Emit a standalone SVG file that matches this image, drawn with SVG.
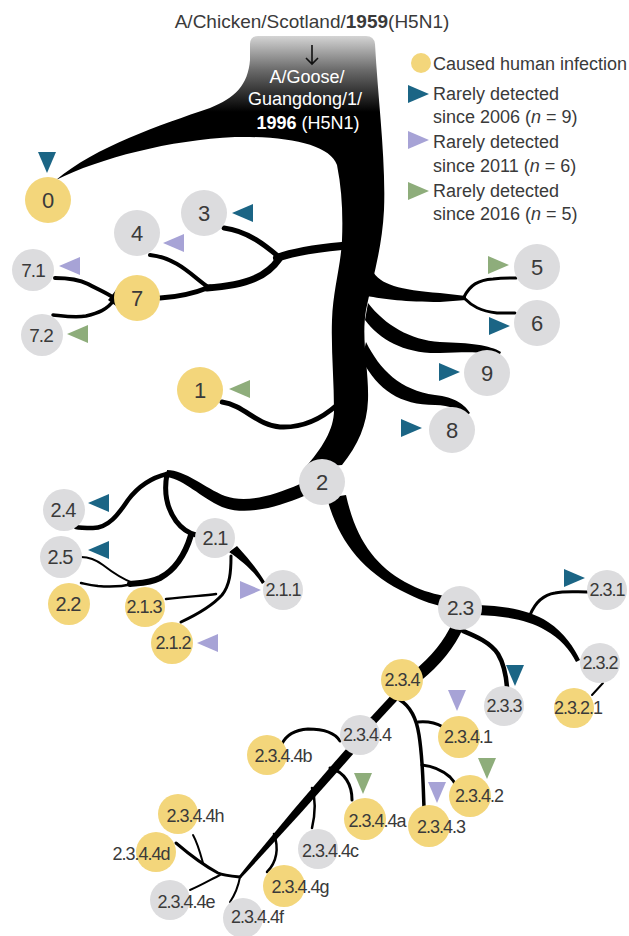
<svg xmlns="http://www.w3.org/2000/svg" width="629" height="936" viewBox="0 0 629 936">
<defs>
<linearGradient id="trunkGrad" gradientUnits="userSpaceOnUse" x1="0" y1="36" x2="0" y2="112">
<stop offset="0" stop-color="#d4d4d4"/>
<stop offset="0.45" stop-color="#6a6a6a"/>
<stop offset="1" stop-color="#000"/>
</linearGradient>
<path id="tri" d="M0,-9 L21,0 L0,9 Z"/>
</defs>
<style>
text{font-family:"Liberation Sans",Arial,sans-serif;fill:#3a3a3a}
.y{fill:#F3D67B}
.g{fill:#DCDCDE}
.t1{fill:#1B6585}
.t2{fill:#A7A3D6}
.t3{fill:#8EAD7B}
.big{font-size:22px;text-anchor:middle}
.mid{font-size:20px;text-anchor:middle;letter-spacing:-1px}
.sm{font-size:18px;text-anchor:middle;letter-spacing:-1px}
.leg{font-size:18px}
.br{fill:none;stroke:#000;stroke-linecap:round}
.tp{fill:#000}
</style>
<rect width="629" height="936" fill="#fff"/>

<g id="title">
<text x="312" y="28" style="font-size:19px;text-anchor:middle">A/Chicken/Scotland/<tspan font-weight="bold">1959</tspan>(H5N1)</text>
</g>

<g id="connectors">
<!-- trunk -->
<path fill="url(#trunkGrad)" d="M250,44 Q250,36 258,36 L366,36 Q374,36 375,44 C378,100 386,160 384,210 C382,250 372,280 366,310 C361,340 369,370 368,400 C367,425 358,445 342,465 L305,468 C322,448 334,430 334,410 C334,380 331,350 332,320 C333,290 341,265 342,240 C343,215 342,190 337,165 C330,145 290,136 235,137 C170,140 100,158 56,180 C95,147 160,125 210,108 C235,98 248,85 250,60 Z"/>
<path d="M312,45 L312,64 M306,58 L312,64 L318,58" fill="none" stroke="#111" stroke-width="1.6"/>
<!-- 3/4/7 -->
<path class="br" stroke-width="8" d="M342,246 C320,248 296,251 277,258"/>
<path class="br" stroke-width="5" d="M279,257 C266,246 248,231 224,228"/>
<path class="br" stroke-width="7" d="M279,259 C268,275 250,285 207,288"/>
<path class="br" stroke-width="4" d="M208,287 C193,277 178,258 150,255"/>
<path class="br" stroke-width="5" d="M210,287 C195,293 180,297 160,298"/>
<path class="tp" d="M116,290 L116,306 L108,300 Z"/>
<path class="br" stroke-width="4" d="M114,298 C105,292 97,289 88,284 C78,279 68,278 55,278"/>
<path class="br" stroke-width="3.5" d="M114,300 C107,310 98,313 86,316 C75,318 63,316 53,315"/>
<!-- 1 -->
<path class="br" stroke-width="5" d="M337,405 C320,420 300,428 280,427 C258,426 244,405 222,402"/>
<!-- 5/6 -->
<path class="tp" d="M372,270 C380,285 400,290 440,293 L466,296 L466,300 L440,302 C405,302 385,299 366,296 Z"/>
<path class="br" stroke-width="3" d="M464,297 C470,285 478,280 493,279 C502,278 508,278 516,278"/>
<path class="br" stroke-width="3" d="M464,298 C472,306 480,311 497,313 C503,313 508,313 515,313"/>
<!-- 9 -->
<path class="tp" d="M368,303 C385,325 410,340 440,342 C470,343 490,345 501,352 L499,356 C485,351 465,352 440,353 C405,354 380,340 365,320 Z"/>
<!-- 8 -->
<path class="tp" d="M366,342 C380,370 400,390 435,395 C455,397 465,405 470,413 L466,416 C460,410 450,405 435,405 C400,405 378,390 362,360 Z"/>
<!-- 2 left -->
<path class="tp" d="M300,484 C270,497 245,503 225,496 C205,488 185,470 167,470 L167,477 C185,480 200,497 222,507 C245,516 275,508 304,496 Z"/>
<path class="br" stroke-width="4.5" d="M167,474 C150,478 137,488 128,500 C118,515 108,528 93,528 C86,528 80,528 76,527"/>
<path class="br" stroke-width="5" d="M167,474 C164,490 166,507 176,521 C182,529 188,533 196,535"/>
<path class="br" stroke-width="6" d="M191,535 C185,555 175,570 160,578 C150,583 140,583 130,584"/>
<path class="br" stroke-width="2" d="M133,583 C120,578 112,572 103,565 C95,559 88,557 81,557"/>
<path class="br" stroke-width="2.5" d="M133,584 C120,587 108,587 98,586 C90,585 86,584 81,583"/>
<!-- 2.1 -->
<path class="tp" d="M229,552 L237,546 C248,558 258,570 265,582 L262,584 C255,572 242,561 229,552 Z"/>
<path class="br" stroke-width="3" d="M231,556 C231,572 230,585 222,595 C212,606 196,615 181,622"/>
<path class="br" stroke-width="2.5" d="M216,594 C205,596 190,596 166,599"/>
<!-- 2 -> 2.3 -->
<path class="tp" d="M327,498 C338,540 362,570 400,590 C420,600 430,604 442,606 L444,596 C430,593 420,590 405,582 C375,565 356,540 346,495 Z"/>
<!-- 2.3 right -->
<path class="tp" d="M478,605 C505,606 530,610 548,622 C565,633 574,648 580,660 L576,662 C570,650 560,638 545,630 C528,620 505,616 478,615 Z"/>
<path class="br" stroke-width="3" d="M530,615 C535,603 542,595 555,593 C565,591 575,592 587,592"/>
<path class="br" stroke-width="2" d="M603,683 L592,695"/>
<!-- 2.3 -> 2.3.3 -->
<path class="br" stroke-width="4.5" d="M463,631 C475,636 490,642 498,654 C504,664 506,675 507,687"/>
<!-- 2.3 -> 2.3.4 -->
<path fill="none" stroke="#000" stroke-width="12" d="M458,625 C449,645 437,660 417,676"/>
<!-- 2.3.4 -> 2.3.4.4 -->
<path fill="none" stroke="#000" stroke-width="8" d="M395,697 L370,724"/>
<!-- 2.3.4 stem -->
<path class="br" stroke-width="3.5" d="M400,700 C408,705 416,715 419,735 C423,760 423,785 424,807"/>
<path class="br" stroke-width="3" d="M418,722 C428,721 436,723 443,727"/>
<path class="br" stroke-width="3" d="M422,765 C432,766 442,770 450,777 C453,780 455,783 456,786"/>
<!-- 2.3.4.4 -->
<path class="br" stroke-width="3" d="M340,741 C335,733 325,729 308,729 C295,730 286,735 282,744"/>
<path class="tp" d="M347,748 L354,753 Q300,815 241,878 L239,876 Q292,810 347,748 Z"/>
<path class="br" stroke-width="3" d="M330,768 C345,772 352,785 352,800"/>
<path class="br" stroke-width="2.5" d="M312,788 C316,800 315,815 312,828"/>
<path class="br" stroke-width="2.5" d="M274,834 C279,848 277,862 267,872"/>
<path class="br" stroke-width="2" d="M240,877 C238,888 234,896 230,902"/>
<path class="br" stroke-width="3" d="M240,877 C230,876 222,875 218,873 C205,866 190,855 176,843"/>
<path class="br" stroke-width="2" d="M220,875 C210,880 200,886 190,890"/>
<path class="br" stroke-width="2" d="M203,863 C200,852 197,842 193,835"/>
</g>

<g id="trunk-label">
<text x="307" y="83" style="font-size:18px;text-anchor:middle;fill:#fff">A/Goose/</text>
<text x="305" y="105" style="font-size:18px;text-anchor:middle;fill:#fff">Guangdong/1/</text>
<text x="308" y="129" style="font-size:18px;text-anchor:middle;fill:#fff"><tspan font-weight="bold" style="fill:#fff">1996</tspan> (H5N1)</text>
</g>

<g id="n-0"><circle class="y" cx="48" cy="200" r="23"/><text class="big" x="48" y="208">0</text><use href="#tri" class="t1" transform="translate(47,152) rotate(90)"/></g>
<g id="n-3"><circle class="g" cx="204" cy="213" r="23"/><text class="big" x="204" y="221">3</text><use href="#tri" class="t1" transform="translate(253,213) rotate(180)"/></g>
<g id="n-4"><circle class="g" cx="137" cy="233" r="23"/><text class="big" x="137" y="241">4</text><use href="#tri" class="t2" transform="translate(184,243) rotate(180)"/></g>
<g id="n-7"><circle class="y" cx="137" cy="298" r="23"/><text class="big" x="137" y="306">7</text></g>
<g id="n-7-1"><circle class="g" cx="33" cy="270" r="21"/><text class="mid" x="33" y="277" style="font-size:19px">7.1</text><use href="#tri" class="t2" transform="translate(80,266) rotate(180)"/></g>
<g id="n-7-2"><circle class="g" cx="42" cy="335" r="21"/><text class="mid" x="41" y="342" style="font-size:19px">7.2</text><use href="#tri" class="t3" transform="translate(88,334) rotate(180)"/></g>
<g id="n-1"><circle class="y" cx="200" cy="390" r="23"/><text class="big" x="200" y="398">1</text><use href="#tri" class="t3" transform="translate(250,389) rotate(180)"/></g>
<g id="n-5"><circle class="g" cx="537" cy="267" r="23"/><text class="big" x="537" y="275">5</text><use href="#tri" class="t3" transform="translate(488,265)"/></g>
<g id="n-6"><circle class="g" cx="537" cy="323" r="23"/><text class="big" x="537" y="331">6</text><use href="#tri" class="t1" transform="translate(489,326)"/></g>
<g id="n-9"><circle class="g" cx="487" cy="373" r="23"/><text class="big" x="487" y="381">9</text><use href="#tri" class="t1" transform="translate(439,372)"/></g>
<g id="n-8"><circle class="g" cx="452" cy="430" r="23"/><text class="big" x="452" y="438">8</text><use href="#tri" class="t1" transform="translate(401,428)"/></g>
<g id="n-2"><circle class="g" cx="322" cy="482" r="23"/><text class="big" x="322" y="490">2</text></g>
<g id="n-2-4"><circle class="g" cx="64" cy="510" r="21"/><text class="mid" x="63" y="517">2.4</text><use href="#tri" class="t1" transform="translate(109,503) rotate(180)"/></g>
<g id="n-2-5"><circle class="g" cx="61" cy="557" r="21"/><text class="mid" x="60" y="564">2.5</text><use href="#tri" class="t1" transform="translate(109,550) rotate(180)"/></g>
<g id="n-2-2"><circle class="y" cx="69" cy="604" r="21"/><text class="mid" x="68" y="611">2.2</text></g>
<g id="n-2-1"><circle class="g" cx="215" cy="538" r="20"/><text class="mid" x="215" y="545">2.1</text></g>
<g id="n-2-1-1"><circle class="g" cx="283" cy="590" r="20"/><text class="sm" x="283" y="596">2.1.1</text><use href="#tri" class="t2" transform="translate(240,590)"/></g>
<g id="n-2-1-3"><circle class="y" cx="145" cy="607" r="20"/><text class="sm" x="144" y="613">2.1.3</text></g>
<g id="n-2-1-2"><circle class="y" cx="172" cy="643" r="21"/><text class="sm" x="173" y="649">2.1.2</text><use href="#tri" class="t2" transform="translate(218,643) rotate(180)"/></g>
<g id="n-2-3"><circle class="g" cx="460" cy="608" r="22"/><text class="mid" x="460" y="615" style="font-size:21px">2.3</text></g>
<g id="n-2-3-1"><circle class="g" cx="607" cy="590" r="20"/><text class="sm" x="607" y="596">2.3.1</text><use href="#tri" class="t1" transform="translate(564,578)"/></g>
<g id="n-2-3-2"><circle class="g" cx="600" cy="663" r="20"/><text class="sm" x="600" y="669">2.3.2</text></g>
<g id="n-2-3-2-1"><circle class="y" cx="574" cy="708" r="20"/><text class="sm" x="578" y="714">2.3.2.1</text></g>
<g id="n-2-3-3"><circle class="g" cx="504" cy="706" r="20"/><text class="sm" x="504" y="712">2.3.3</text><use href="#tri" class="t1" transform="translate(515,665) rotate(90)"/></g>
<g id="n-2-3-4"><circle class="y" cx="402" cy="680" r="21"/><text class="sm" x="402" y="686">2.3.4</text></g>
<g id="n-2-3-4-4"><circle class="g" cx="360" cy="735" r="20"/><text class="sm" x="367" y="741">2.3.4.4</text></g>
<g id="n-2-3-4-1"><circle class="y" cx="459" cy="737" r="21"/><text class="sm" x="468" y="743">2.3.4.1</text><use href="#tri" class="t2" transform="translate(457,690) rotate(90)"/></g>
<g id="n-2-3-4-2"><circle class="y" cx="470" cy="796" r="21"/><text class="sm" x="479" y="802">2.3.4.2</text><use href="#tri" class="t3" transform="translate(487,758) rotate(90)"/></g>
<g id="n-2-3-4-3"><circle class="y" cx="429" cy="826" r="21"/><text class="sm" x="441" y="833">2.3.4.3</text><use href="#tri" class="t2" transform="translate(437,782) rotate(90)"/></g>
<g id="n-2-3-4-4a"><circle class="y" cx="365" cy="819" r="21"/><text class="sm" x="377" y="827">2.3.4.4a</text><use href="#tri" class="t3" transform="translate(363,773) rotate(90)"/></g>
<g id="n-2-3-4-4b"><circle class="y" cx="267" cy="755" r="20"/><text class="sm" x="283" y="762">2.3.4.4b</text></g>
<g id="n-2-3-4-4c"><circle class="g" cx="318" cy="849" r="20"/><text class="sm" x="330" y="857">2.3.4.4c</text></g>
<g id="n-2-3-4-4d"><circle class="y" cx="156" cy="852" r="20"/><text class="sm" x="141" y="860">2.3.4.4d</text></g>
<g id="n-2-3-4-4e"><circle class="g" cx="170" cy="900" r="20"/><text class="sm" x="186" y="908">2.3.4.4e</text></g>
<g id="n-2-3-4-4f"><circle class="g" cx="243" cy="918" r="20"/><text class="sm" x="257" y="923">2.3.4.4f</text></g>
<g id="n-2-3-4-4g"><circle class="y" cx="284" cy="886" r="21"/><text class="sm" x="300" y="893">2.3.4.4g</text></g>
<g id="n-2-3-4-4h"><circle class="y" cx="178" cy="814" r="20"/><text class="sm" x="195" y="822">2.3.4.4h</text></g>

<g id="legend">
<circle class="y" cx="421" cy="63" r="10"/>
<text class="leg" x="433" y="70">Caused human infection</text>
<use href="#tri" class="t1" transform="translate(408,94)"/>
<text class="leg" x="433" y="100">Rarely detected</text>
<text class="leg" x="433" y="123">since 2006 (<tspan font-style="italic">n</tspan> = 9)</text>
<use href="#tri" class="t2" transform="translate(408,140)"/>
<text class="leg" x="433" y="148">Rarely detected</text>
<text class="leg" x="433" y="172">since 2011 (<tspan font-style="italic">n</tspan> = 6)</text>
<use href="#tri" class="t3" transform="translate(408,191)"/>
<text class="leg" x="433" y="197">Rarely detected</text>
<text class="leg" x="433" y="220">since 2016 (<tspan font-style="italic">n</tspan> = 5)</text>
</g>
</svg>
